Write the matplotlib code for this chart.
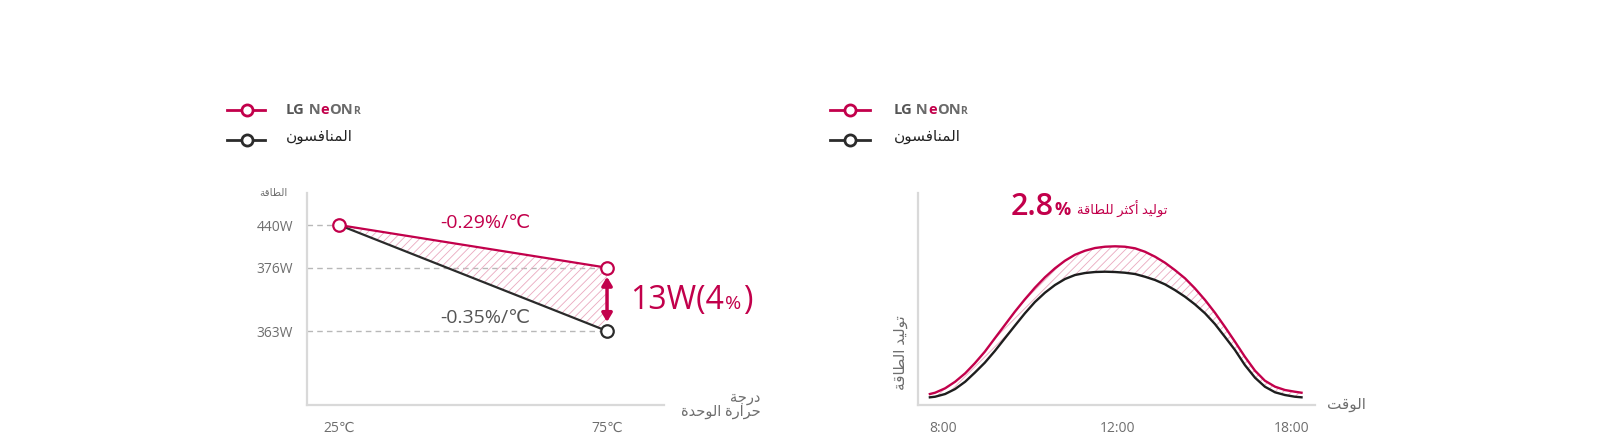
import numpy as np
import matplotlib
matplotlib.use('Agg')
import matplotlib.pyplot as plt
from matplotlib.lines import Line2D
from matplotlib.offsetbox import TextArea, HPacker, AnnotationBbox

# ---- data ----
temps = [25, 75]
neon_power = [440, 376]
rival_power = [440, 363]
power_ticks = [440, 376, 363]
temp_labels = ['25℃', '75℃']

hours = [7.70, 7.82, 8.05, 8.28, 8.51, 8.73, 8.96, 9.19, 9.42, 9.65, 9.88, 10.11,
         10.34, 10.57, 10.80, 11.03, 11.26, 11.49, 11.72, 11.95, 12.26, 12.61,
         12.95, 13.30, 13.64, 13.98, 14.33, 14.67, 15.02, 15.36, 15.70, 16.05,
         16.39, 16.74, 17.08, 17.43, 17.77, 18.11, 18.34]
neon_gen = [11.0, 12.3, 16.7, 23.3, 31.7, 41.7, 53.3, 66.7, 80.0, 93.3, 105.7, 117.3,
            127.7, 136.7, 144.3, 150.3, 154.3, 157.0, 158.3, 158.7, 158.3, 156.7,
            153.3, 148.3, 142.3, 135.0, 126.7, 116.7, 105.0, 92.3, 78.3, 63.3,
            48.3, 34.3, 24.3, 18.3, 15.0, 13.3, 12.3]
rival_gen = [7.7, 8.3, 11.0, 16.0, 23.3, 32.3, 42.3, 54.0, 66.7, 79.3, 91.7, 103.0,
             112.3, 120.0, 126.0, 130.0, 132.0, 133.0, 133.3, 133.0, 132.3, 131.0,
             128.3, 125.0, 120.7, 115.0, 108.3, 100.7, 91.7, 81.0, 68.3, 55.0,
             40.0, 27.3, 18.3, 12.7, 10.0, 8.3, 7.7]
time_ticks = [8, 12, 18]
time_labels = ['8:00', '12:00', '18:00']

# schematic (non linear) axes used in the original artwork
power_breaks = [300, 363, 376, 440, 488]
power_pos = [0, 74, 137.3, 180, 211.7]
hour_breaks = [7, 8, 12, 18, 19]
hour_pos = [-0.25, 0, 1, 2, 2 + 1 / 6]

CRIMSON = '#c2004b'
DARK = '#2b2b2b'
GRAY = '#6e6e6e'
SPINE = '#d9d9d9'
HATCH = '#eaa9bf'

plt.rcParams['font.family'] = ['Open Sans', 'DejaVu Sans']
plt.rcParams['hatch.linewidth'] = 0.6

# very small arabic shaper (matplotlib has no shaping / rtl)
FORMS = {
    '\u0627': ('\uFE8D', '\uFE8E'),
    '\u0623': ('\uFE83', '\uFE84'),
    '\u062A': ('\uFE95', '\uFE96', '\uFE97', '\uFE98'),
    '\u062B': ('\uFE99', '\uFE9A', '\uFE9B', '\uFE9C'),
    '\u062C': ('\uFE9D', '\uFE9E', '\uFE9F', '\uFEA0'),
    '\u062D': ('\uFEA1', '\uFEA2', '\uFEA3', '\uFEA4'),
    '\u062F': ('\uFEA9', '\uFEAA'),
    '\u0631': ('\uFEAD', '\uFEAE'),
    '\u0633': ('\uFEB1', '\uFEB2', '\uFEB3', '\uFEB4'),
    '\u0637': ('\uFEC1', '\uFEC2', '\uFEC3', '\uFEC4'),
    '\u0641': ('\uFED1', '\uFED2', '\uFED3', '\uFED4'),
    '\u0642': ('\uFED5', '\uFED6', '\uFED7', '\uFED8'),
    '\u0643': ('\uFED9', '\uFEDA', '\uFEDB', '\uFEDC'),
    '\u0644': ('\uFEDD', '\uFEDE', '\uFEDF', '\uFEE0'),
    '\u0645': ('\uFEE1', '\uFEE2', '\uFEE3', '\uFEE4'),
    '\u0646': ('\uFEE5', '\uFEE6', '\uFEE7', '\uFEE8'),
    '\u0629': ('\uFE93', '\uFE94'),
    '\u0648': ('\uFEED', '\uFEEE'),
    '\u064A': ('\uFEF1', '\uFEF2', '\uFEF3', '\uFEF4'),
}


def ar(s):
    lines = []
    for line in s.split('\n'):
        out = []
        for i, ch in enumerate(line):
            f = FORMS.get(ch)
            if f is None:
                out.append(ch)
                continue
            prev = line[i - 1] if i > 0 else ''
            nxt = line[i + 1] if i + 1 < len(line) else ''
            jp = prev in FORMS and len(FORMS[prev]) == 4
            jn = len(f) == 4 and nxt in FORMS
            if jp and jn:
                out.append(f[3])
            elif jp:
                out.append(f[1])
            elif jn:
                out.append(f[2])
            else:
                out.append(f[0])
        lines.append(''.join(reversed(out)))
    return '\n'.join(lines)


def rich(ax, xy, coords, pieces, sep=1):
    # several differently styled strings sitting on one baseline
    areas = [TextArea(t, textprops=kw) for t, kw in pieces]
    box = HPacker(children=areas, align='baseline', pad=0, sep=sep)
    ax.add_artist(AnnotationBbox(box, xy, xycoords=coords, box_alignment=(0, 0.5),
                                 frameon=False, pad=0, annotation_clip=False))


def legend(fig, ax, x0, x1, xm, xt):
    for y, col in [(0.7523, CRIMSON), (0.6858, DARK)]:
        fig.add_artist(Line2D([x0, xm, x1], [y, y, y], transform=fig.transFigure,
                              color=col, lw=2, marker='o', markevery=[1],
                              markersize=8, markerfacecolor='white',
                              markeredgewidth=2))
    g = '#6a6a6a'
    rich(ax, (xt, 0.7523), 'figure fraction', [
        ('LG', dict(fontsize=10.5, fontweight='bold', color='#555555')),
        (' N', dict(fontsize=10.5, fontweight='bold', color=g)),
        ('e', dict(fontsize=10.5, fontweight='bold', color=CRIMSON)),
        ('ON', dict(fontsize=10.5, fontweight='bold', color=g)),
        ('R', dict(fontsize=7.5, fontweight='bold', color=g)),
    ], sep=0)
    ax.annotate(ar('المنافسون'), xy=(xt, 0.6914), xycoords='figure fraction',
                va='center', ha='left', fontsize=11, color='#222222',
                annotation_clip=False)


fig = plt.figure(figsize=(16, 4.44), dpi=100)

# ---- left: power vs module temperature ----
ax1 = fig.add_axes([0.1921, 0.0878, 0.2229, 0.4768])
ax1.set_yscale('function', functions=(lambda v: np.interp(v, power_breaks, power_pos),
                                      lambda p: np.interp(p, power_pos, power_breaks)))
ax1.set_xlim(19.09, 85.63)
ax1.set_ylim(power_breaks[0], power_breaks[-1])

x_left = ax1.get_xlim()[0]
ax1.hlines([neon_power[0], neon_power[1], rival_power[1]], x_left,
           [temps[0], temps[1], temps[1]], colors='#b8b8b8', linestyles=(0, (4, 3)),
           lw=1, zorder=1)
ax1.fill_between(temps, rival_power, neon_power, facecolor='none', edgecolor=HATCH,
                 hatch='////', lw=0, zorder=2)
ax1.plot(temps, rival_power, color=DARK, lw=1.6, zorder=3)
ax1.plot(temps, neon_power, color=CRIMSON, lw=1.6, zorder=4)
ax1.plot(temps[1:], rival_power[1:], 'o', ms=9, mfc='white', mec=DARK, mew=1.6, zorder=5)
ax1.plot(temps, neon_power, 'o', ms=9, mfc='white', mec=CRIMSON, mew=1.6, zorder=6)
ax1.annotate('', xy=(temps[1], rival_power[1]), xytext=(temps[1], neon_power[1]),
             arrowprops=dict(arrowstyle='<|-|>,head_length=0.5,head_width=0.3',
                             color=CRIMSON, lw=2.5, shrinkA=6.5, shrinkB=6.5))

ax1.text(0.498, 0.861, '-0.29%/℃', transform=ax1.transAxes, ha='center', va='center',
         fontsize=14, color=CRIMSON)
ax1.text(0.498, 0.411, '-0.35%/℃', transform=ax1.transAxes, ha='center', va='center',
         fontsize=14, color='#555555')
rich(ax1, (0.905, 0.496), 'axes fraction', [
    ('13W(4', dict(fontsize=23, color=CRIMSON)),
    ('%', dict(fontsize=14, color=CRIMSON)),
    (')', dict(fontsize=23, color=CRIMSON)),
])
ax1.text(-0.096, 0.997, ar('الطاقة'), transform=ax1.transAxes, ha='center',
         va='center', fontsize=7.5, color=GRAY)
ax1.text(1.27, 0.0, ar('درجة\nحرارة الوحدة'), transform=ax1.transAxes, ha='right',
         va='center', multialignment='right', fontsize=10.5, color=GRAY,
         linespacing=0.95)

ax1.set_yticks(power_ticks)
ax1.set_yticklabels([f'{v}W' for v in power_ticks])
ax1.yaxis.set_minor_locator(matplotlib.ticker.NullLocator())
ax1.set_xticks(temps)
ax1.set_xticklabels(temp_labels)
ax1.tick_params(axis='y', length=0, pad=10.5, labelsize=10, labelcolor=GRAY)
ax1.tick_params(axis='x', length=0, pad=11.5, labelsize=10, labelcolor=GRAY)

# ---- right: generation over the day ----
ax2 = fig.add_axes([0.5739, 0.0878, 0.2479, 0.4775])
ax2.set_xscale('function', functions=(lambda h: np.interp(h, hour_breaks, hour_pos),
                                      lambda p: np.interp(p, hour_pos, hour_breaks)))
ax2.set_xlim(7.433, 18.80)
ax2.set_ylim(0, 212)
ax2.fill_between(hours, rival_gen, neon_gen, facecolor='none', edgecolor=HATCH,
                 hatch='////', lw=0, zorder=2)
ax2.plot(hours, rival_gen, color='#1e1e1e', lw=1.7, zorder=3)
ax2.plot(hours, neon_gen, color=CRIMSON, lw=1.7, zorder=4)

rich(ax2, (0.232, 0.935), 'axes fraction', [
    ('2.8', dict(fontsize=22, color=CRIMSON, fontweight='semibold')),
    ('% ', dict(fontsize=13, color=CRIMSON, fontweight='bold')),
    (ar('توليد أكثر للطاقة'), dict(fontsize=9.5, color=CRIMSON)),
])
ax2.text(-0.042, 0.245, ar('توليد الطاقة'), transform=ax2.transAxes, rotation=90,
         ha='center', va='center', fontsize=11, color=GRAY)
ax2.text(1.03, 0.0, ar('الوقت'), transform=ax2.transAxes, ha='left', va='center',
         fontsize=11, color=GRAY)

ax2.set_xticks(time_ticks)
ax2.set_xticklabels(time_labels)
ax2.xaxis.set_minor_locator(matplotlib.ticker.NullLocator())
ax2.set_yticks([])
ax2.tick_params(axis='x', length=0, pad=11.5, labelsize=10, labelcolor=GRAY)

for ax in (ax1, ax2):
    for side in ('top', 'right'):
        ax.spines[side].set_visible(False)
    for side in ('left', 'bottom'):
        ax.spines[side].set_color(SPINE)
        ax.spines[side].set_linewidth(1.6)

legend(fig, ax1, 0.1419, 0.1656, 0.1542, 0.1788)
legend(fig, ax2, 0.5188, 0.5438, 0.5313, 0.5585)

fig.savefig('out.png', dpi=100, facecolor='white')
